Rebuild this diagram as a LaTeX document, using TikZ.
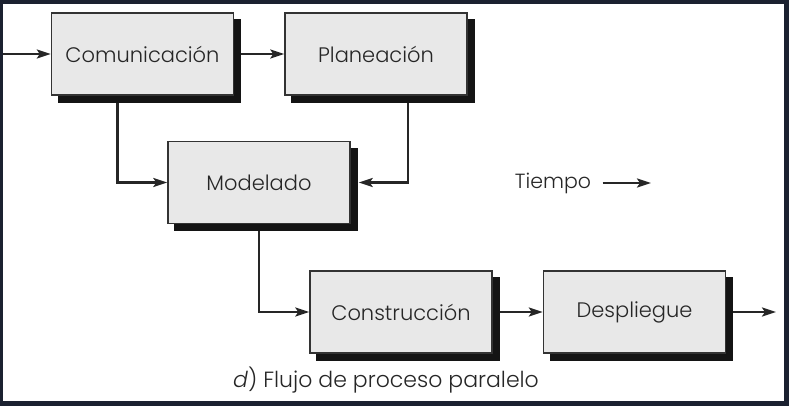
\documentclass[tikz,border=0pt]{standalone}
\usepackage{fontspec}
\setmainfont{Poppins Light}
\usepackage{tikz}
\usetikzlibrary{arrows.meta}

\begin{document}
\begin{tikzpicture}[x=1pt,y=-1pt,
		  etapa/.style={draw=black!80,line width=1.4pt,fill=black!9,text=black!85,
		    minimum width=182pt,minimum height=82pt,inner sep=0pt,
		    font=\fontsize{21}{24}\selectfont,
		    preaction={fill=black!92,draw=black!92,transform canvas={xshift=7pt,yshift=-7pt}}},
		  flujo/.style={line width=2.3pt,draw=black!85,-{Stealth[length=14pt,width=9pt,inset=3pt]}}]
		  \fill[fill={rgb,255:red,27;green,33;blue,48}] (0,0) rectangle (789,406);
		  \fill[white] (3,4) rectangle (784,401);
		  \node[etapa] (com) at (142.5,54) {Comunicación};
		  \node[etapa] (plan) at (376,54) {Planeación};
		  \node[etapa] (mod) at (259,182.5) {Modelado};
		  \node[etapa] (con) at (401,312) {Construcción};
		  \node[etapa] (des) at (634.5,312) {Despliegue};
		  \coordinate (entrada) at (3,54);
		  \coordinate (salida) at (776,312);
		  \draw[flujo] (entrada) -- (com.west);
		  \draw[flujo] ([xshift=7pt]com.east) -- (plan.west);
		  \draw[flujo] ([xshift=-25pt,yshift=-7pt]com.south) |- (mod.west);
		  \draw[flujo] ([xshift=32pt,yshift=-7pt]plan.south) |- ([xshift=8pt]mod.east);
		  \draw[flujo] ([yshift=-7pt]mod.south) |- (con.west);
		  \draw[flujo] ([xshift=7pt]con.east) -- (des.west);
		  \draw[flujo] ([xshift=7pt]des.east) -- (salida);
		  \node[font=\fontsize{20.5}{24}\selectfont,text=black!85] (tiempo) at (553,183) {Tiempo};
		  \coordinate (tfin) at (651,183);
		  \draw[flujo] ([xshift=8pt]tiempo.east) -- (tfin);
		  \node[font=\fontsize{22}{24}\selectfont,text=black!85] (pie) at (386,380) {\textit{d}) Flujo de proceso paralelo};
\end{tikzpicture}
\end{document}
